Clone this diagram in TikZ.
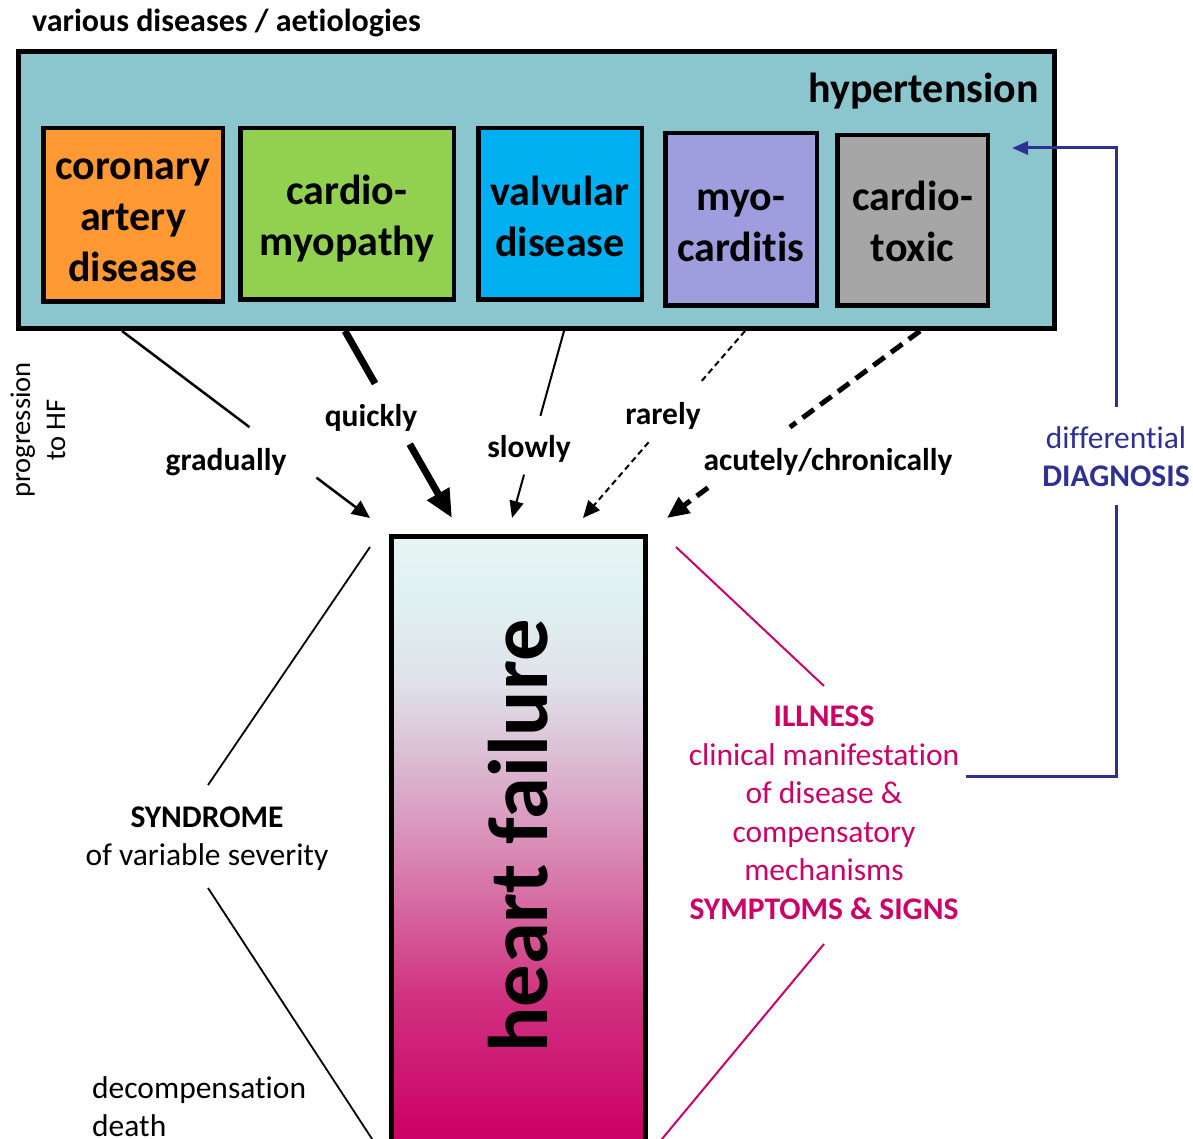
\documentclass[tikz,border=0pt]{standalone}
\usepackage{fontspec}
\setmainfont{Carlito}[RawFeature={-liga}]
\usetikzlibrary{arrows.meta,calc}
\definecolor{tealbg}{HTML}{8BC5CD}
\definecolor{cadc}{HTML}{FF9933}
\definecolor{cmc}{HTML}{92D050}
\definecolor{valc}{HTML}{00B0F0}
\definecolor{myoc}{HTML}{9E9EDE}
\definecolor{toxc}{HTML}{A6A6A6}
\definecolor{pinkc}{HTML}{CC0066}
\definecolor{bluec}{HTML}{2E3192}
\definecolor{hfa}{HTML}{CC0066}
\definecolor{hfb}{HTML}{D0307F}
\definecolor{hfc}{HTML}{D98AB5}
\definecolor{hfd}{HTML}{DCC0D6}
\definecolor{hfe}{HTML}{DFE2EA}
\definecolor{hff}{HTML}{E0F0F0}
\definecolor{hfg}{HTML}{E6F4F4}
\pgfdeclareverticalshading{hfshade}{100bp}{color(0bp)=(hfa); color(25bp)=(hfa); color(36.5bp)=(hfb); color(49bp)=(hfc); color(57.25bp)=(hfd); color(63bp)=(hfe); color(69.5bp)=(hff); color(75bp)=(hfg); color(100bp)=(hfg)}
\newcommand\myfs[2]{\fontsize{#1}{#2}\selectfont}
\begin{document}
\begin{tikzpicture}[x=1pt,y=-1pt,
  dbox/.style={draw, line width=4.5pt, inner sep=0pt},
  dtxt/.style={inner sep=0pt, align=center, font=\myfs{42}{51}\bfseries},
  lbl/.style={font=\myfs{31.5}{38}\bfseries, inner sep=0pt},
  txt/.style={font=\myfs{31.5}{38}, inner sep=0pt, align=center},
  tipS/.style={-{Triangle[length=18pt,width=16pt]}},
  lowline/.style={line width=1.8pt},
  pinkline/.style={line width=2pt, draw=pinkc},
  blueline/.style={line width=3pt, draw=bluec}]
\useasboundingbox (0,0) rectangle (1193,1139);
\fill[white] (0,0) rectangle (1193,1139);

% title
\node[font=\myfs{32}{38}\bfseries, anchor=base west, inner sep=0pt] (title) at (32,32) {various diseases / aetiologies};

% outer box
\node[draw, line width=5pt, fill=tealbg, minimum width=1036pt, minimum height=277pt, inner sep=0pt] (outer) at (536.5,190) {};
\node[font=\myfs{42}{51}\bfseries, anchor=base east, inner sep=0pt] (htn) at (1039,103) {hypertension};

% disease boxes
\node[dbox, fill=cadc, minimum width=179.5pt, minimum height=173.5pt] (cad) at (133,215) {};
\node[dtxt] (cadt) at (133,220) {coronary\\artery\\disease};
\node[dbox, fill=cmc, minimum width=213.5pt, minimum height=171.5pt] (cm) at (347,214) {};
\node[dtxt] (cmt) at (347,218.5) {cardio-\\myopathy};
\node[dbox, fill=valc, minimum width=163.5pt, minimum height=171.5pt] (val) at (560,214) {};
\node[dtxt] (valt) at (560,216) {valvular\\disease};
\node[dbox, fill=myoc, minimum width=151.5pt, minimum height=172.5pt] (myo) at (741,219.5) {};
\node[dtxt] (myot) at (741,225.5) {myo-\\carditis};
\node[dbox, fill=toxc, minimum width=150.5pt, minimum height=170.5pt] (tox) at (912.5,220.5) {};
\node[dtxt] (toxt) at (912.5,221.5) {cardio-\\toxic};

% heart failure box
\path[shading=hfshade] (391.5,536.5) rectangle (645.5,1139);
\node[font=\myfs{84.5}{90}\bfseries, rotate=90, inner sep=0pt] (hf) at (518.5,836) {heart failure};
\draw[line width=5pt] (391.5,1145) |- (645.5,536.5) -- (645.5,1145);

% progression labels
\node[lbl] (lgrad) at (226,462) {gradually};
\node[lbl] (lquick) at (371,418) {quickly};
\node[lbl] (lslow) at (529,449) {slowly};
\node[lbl] (lrare) at (663,416) {rarely};
\node[lbl] (lacute) at (828,462) {acutely/chronically};

% arrows
\coordinate (gS) at (122,331); \coordinate (gT) at (370,518);
\draw[line width=2.5pt] (gS) -- ($(gS)!0.514!(gT)$);
\draw[line width=2.5pt, tipS] ($(gS)!0.784!(gT)$) -- (gT);

\coordinate (qS) at (345,331); \coordinate (qT) at (452,518);
\draw[line width=7pt] (qS) -- ($(qS)!0.281!(qT)$);
\draw[line width=7pt, -{Triangle[length=28pt,width=24pt]}] ($(qS)!0.605!(qT)$) -- (qT);

\coordinate (sS) at (564,331); \coordinate (sT) at (512,518);
\draw[line width=2pt] (sS) -- ($(sS)!0.454!(sT)$);
\draw[line width=2pt, -{Triangle[length=17pt,width=14pt]}] ($(sS)!0.768!(sT)$) -- (sT);

\coordinate (rS) at (745,331); \coordinate (rT) at (583,518);
\draw[line width=2pt, dash pattern=on 6pt off 4pt] (rS) -- ($(rS)!0.27!(rT)$);
\draw[line width=2pt, dash pattern=on 6pt off 4pt, -{Triangle[length=17pt,width=15pt]}] ($(rS)!0.595!(rT)$) -- (rT);

\coordinate (aS) at (920,331); \coordinate (aT) at (667,518);
\draw[line width=5pt, dash pattern=on 14pt off 8pt] (aS) -- ($(aS)!0.514!(aT)$);
\draw[line width=5pt, dash pattern=on 14pt off 8pt, -{Triangle[length=22pt,width=19pt]}] ($(aS)!0.838!(aT)$) -- (aT);

% left side
\node[txt] (synd) at (207,839) {\textbf{SYNDROME}\\of variable severity};
\node[txt, align=left, anchor=north west] (decomp) at (92,1076) {decompensation\\death};
\coordinate (sl1) at (370,547); \coordinate (sl2) at (208,785);
\coordinate (sl3) at (208,888); \coordinate (sl4) at (376,1145);
\draw[lowline] (sl1) -- (sl2);
\draw[lowline] (sl3) -- (sl4);

% right side
\node[txt, text=pinkc, font=\myfs{31.5}{38.5}] (ill) at (824,813) {\textbf{ILLNESS}\\clinical manifestation\\of disease \&\\compensatory\\mechanisms\\\textbf{SYMPTOMS \& SIGNS}};
\coordinate (pl1) at (676,547); \coordinate (pl2) at (824,686);
\coordinate (pl3) at (824,944); \coordinate (pl4) at (657,1145);
\draw[pinkline] (pl1) -- (pl2);
\draw[pinkline] (pl3) -- (pl4);

% differential diagnosis
\node[txt, text=bluec] (ddx) at (1116,457) {differential\\\textbf{DIAGNOSIS}};
\coordinate (b1) at (966,776); \coordinate (b2) at (1116,505);
\coordinate (b3) at (1116,407); \coordinate (b4) at (1012,148);
\draw[blueline] (b1) -| (b2);
\draw[blueline, -{Triangle[length=16pt,width=13pt]}] (b3) |- (b4);

% progression to HF
\node[font=\myfs{28.5}{35}, align=center, rotate=90, inner sep=0pt] (prog) at (38,430) {progression\\to HF};
\end{tikzpicture}
\end{document}
